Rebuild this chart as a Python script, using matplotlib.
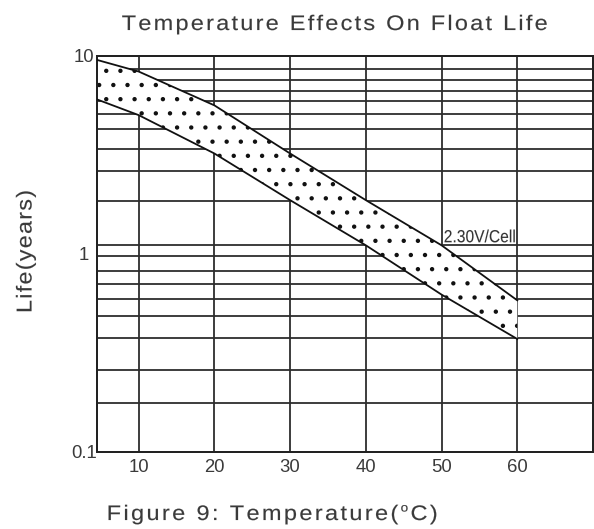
import matplotlib
matplotlib.use("Agg")
import matplotlib.pyplot as plt
from matplotlib.ticker import FixedLocator, NullFormatter, FixedFormatter
from matplotlib.font_manager import FontProperties, findfont, get_font
from matplotlib.textpath import TextPath
from matplotlib.patches import PathPatch
from matplotlib.path import Path
from matplotlib.transforms import Affine2D

plt.rcParams['font.family'] = ['Liberation Sans', 'DejaVu Sans']

# ---- data ----
temps = [4.5, 10, 20, 30, 40, 50, 60]
life_upper = [9.5, 8.3, 5.6, 3.2, 1.86, 1.10, 0.58]
life_lower = [6.0, 5.0, 3.2, 1.86, 1.10, 0.62, 0.37]
x_ticks = [10, 20, 30, 40, 50, 60]
x_tick_labels = ['10', '20', '30', '40', '50', '60']
x_grid = [10, 20, 30, 40, 50, 60, 70]
y_ticks = [0.1, 1, 10]
y_tick_labels = ['0.1', '1', '10']
y_grid = [8.55, 7.52, 6.62, 5.86, 5.06, 4.23, 3.39, 2.61, 1.84, 1.10,
          0.971, 0.820, 0.701, 0.589, 0.481, 0.374, 0.259, 0.176]
title = 'Temperature Effects On Float Life'
y_label = 'Life(years)'
x_label_main = 'Figure 9: Temperature('
x_label_sup = 'o'
x_label_end = 'C)'
band_label = '2.30V/Cell'
band_label_pos = (50.3, 1.14)

# ---- figure setup (pixel based) ----
W, H = 594, 529
DPI = 85


def pt(px):
    return px * 72.0 / DPI


fig = plt.figure(figsize=(W / DPI, H / DPI), dpi=DPI)
ax = fig.add_axes([97 / W, 1 - 451.5 / H, (593 - 97) / W, (451.5 - 55.5) / H])

TEXT = '#3a3a3a'
FONT = FontProperties(family='Liberation Sans')
_font = get_font(findfont(FONT))
PX = Affine2D().scale(1.0 / DPI) + fig.dpi_scale_trans


def advance(c, size):
    _font.set_size(size, 72)
    return _font.load_char(ord(c)).linearHoriAdvance / 65536.0


def spaced_text(x_px, y_px, segments, width_px=None, track=0.0, ha='left',
                rotation=0, sx=1.0, color=TEXT, from_top=True, stroke=0.0):
    items = []
    for s, size, rise in segments:
        for c in s:
            items.append((c, size, rise, advance(c, size)))
    natural = sum(it[3] for it in items)
    n = len(items)
    if width_px is not None and n > 1:
        track = (width_px / sx - natural) / (n - 1)
    paths = []
    x = 0.0
    for i, (c, size, rise, adv) in enumerate(items):
        if c != ' ':
            paths.append(TextPath((x, rise), c, size=size, prop=FONT))
        x += adv + (track if i < n - 1 else 0)
    total = x
    anchor = {'left': 0.0, 'center': total / 2, 'right': total}[ha]
    path = Path.make_compound_path(*paths)
    yy = H - y_px if from_top else y_px
    tr = (Affine2D().translate(-anchor, 0).scale(sx, 1).rotate_deg(rotation)
          .translate(x_px, yy)) + PX
    patch = PathPatch(path, transform=tr, facecolor=color,
                      edgecolor=color if stroke > 0 else 'none',
                      lw=pt(stroke), zorder=5)
    fig.add_artist(patch)
    return patch


ax.set_yscale('log')
ax.set_xlim(4.5, 70)
ax.set_ylim(0.1, 10)

grid_color = '#2c2c2c'
for gx in x_grid:
    ax.axvline(gx, color=grid_color, lw=pt(1.8), zorder=1)
for gy in y_grid:
    ax.axhline(gy, color=grid_color, lw=pt(1.8), zorder=1)

plt.rcParams['hatch.linewidth'] = pt(1.5)
ax.fill_between(temps, life_lower, life_upper, facecolor='white',
                edgecolor='#111111', hatch='.', linewidth=0, zorder=2)
ax.plot(temps, life_upper, color='#111111', lw=pt(1.8), zorder=3)
ax.plot(temps, life_lower, color='#111111', lw=pt(1.8), zorder=3)

ax.xaxis.set_major_locator(FixedLocator(x_ticks))
ax.xaxis.set_major_formatter(FixedFormatter(x_tick_labels))
ax.yaxis.set_major_locator(FixedLocator(y_ticks))
ax.yaxis.set_major_formatter(FixedFormatter(y_tick_labels))
ax.yaxis.set_minor_locator(FixedLocator([]))
ax.yaxis.set_minor_formatter(NullFormatter())
ax.tick_params(axis='both', which='both', length=0, labelsize=pt(18.5),
               labelcolor=TEXT)
ax.tick_params(axis='x', pad=pt(8))
ax.tick_params(axis='y', pad=pt(13))
plt.setp(ax.get_yticklabels(), ha='center')

for sp in ax.spines.values():
    sp.set_color('#222222')
    sp.set_linewidth(pt(2.0))

# narrow band label anchored to data position
bx, by = ax.transData.transform(band_label_pos)
bx_px = bx * DPI / fig.dpi
by_px = by * DPI / fig.dpi
spaced_text(bx_px, by_px, [(band_label, 17.5, 0)], width_px=72, sx=0.88,
            from_top=False, color='#333333', stroke=0.1)

# title and axis labels (letter-spaced, slightly widened)
spaced_text(121.7, 30, [(title, 21, 0)], width_px=426, sx=1.12, stroke=0.15)
spaced_text(106.7, 520, [(x_label_main, 21, 0), (x_label_sup, 12, 8.5),
                         (x_label_end, 21, 0)], width_px=331, sx=1.12,
            stroke=0.15)
spaced_text(31.5, 313, [(y_label, 21.5, 0)], width_px=123, rotation=90,
            sx=1.08, stroke=0.15)

fig.savefig('out.png', dpi=DPI, facecolor='white')
